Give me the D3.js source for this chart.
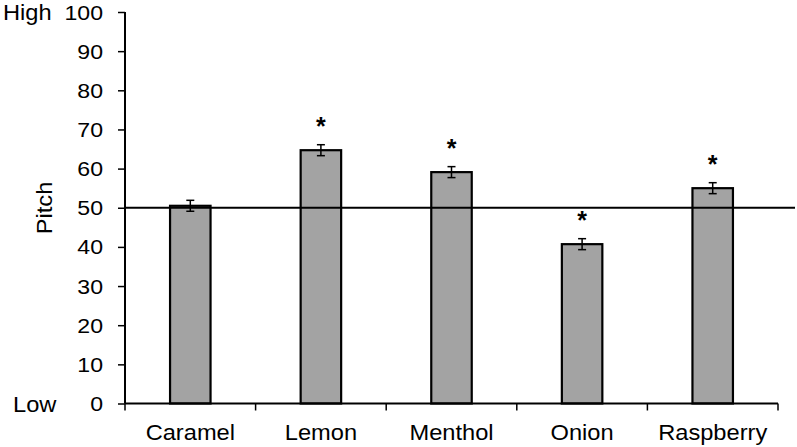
<!DOCTYPE html>
<html>
<head>
<meta charset="utf-8">
<script src="https://cdn.jsdelivr.net/npm/d3@7"></script>
<style>
  body { margin: 0; background: #fff; }
  text { font-family: "Liberation Sans", Arial, sans-serif; fill: #000; }
</style>
</head>
<body>
<svg id="chart" width="797" height="447"></svg>
<script>
  var categories = ['Caramel', 'Lemon', 'Menthol', 'Onion', 'Raspberry'];
  var values = [50.5, 64.7, 59.1, 40.7, 55.0];
  var errors = [1.4, 1.4, 1.4, 1.4, 1.4];
  var significant = [false, true, true, true, true];
  var yTicks = [0, 10, 20, 30, 40, 50, 60, 70, 80, 90, 100];
  var reference = 50;

  (function() {
    'use strict';

    var STRETCH = 1.1; // the source text is a little wider than it is tall
    var svg = d3.select('#chart');
    var plotLeft = 125, plotRight = 778, plotTop = 12, plotBottom = 403.5;

    // place a text at (x, y) with a slight horizontal stretch
    var label = function(parent, x, y, str, size, anchor) {
      return parent.append('text')
        .attr('transform', 'translate(' + x + ',' + y + ') scale(' + STRETCH + ',1)')
        .attr('text-anchor', anchor || 'start')
        .style('font-size', size + 'px')
        .text(str);
    };

    var x = d3.scaleBand()
      .domain(categories)
      .range([plotLeft, plotRight])
      .paddingInner(0.69)
      .paddingOuter(0.345);

    var y = d3.scaleLinear()
      .domain([0, 100])
      .range([plotBottom, plotTop]);

    // bars
    svg.selectAll('rect.bar')
      .data(values)
      .enter().append('rect')
      .attr('class', 'bar')
      .attr('x', function(d, i) { return x(categories[i]); })
      .attr('y', function(d) { return y(d); })
      .attr('width', x.bandwidth())
      .attr('height', function(d) { return y(0) - y(d); })
      .attr('fill', '#a3a3a3')
      .attr('stroke', '#000')
      .attr('stroke-width', 2.2);

    // reference line
    svg.append('line')
      .attr('x1', plotLeft).attr('x2', 795)
      .attr('y1', y(reference)).attr('y2', y(reference))
      .attr('stroke', '#000').attr('stroke-width', 2);

    // y axis
    var yAxis = svg.append('g')
      .attr('transform', 'translate(' + plotLeft + ',0)')
      .call(d3.axisLeft(y).tickValues(yTicks).tickSize(7).tickFormat(''));
    yAxis.select('.domain').attr('stroke-width', 2).attr('d', 'M0,' + plotTop + 'V' + plotBottom);
    yAxis.selectAll('.tick line').attr('stroke-width', 1.5);
    yTicks.forEach(function(t) {
      label(svg, plotLeft - 22, y(t), t, 21, 'end').attr('dy', '0.36em');
    });

    // x axis: ticks at category boundaries
    var xAxis = svg.append('g');
    xAxis.append('line')
      .attr('x1', plotLeft).attr('x2', plotRight)
      .attr('y1', plotBottom).attr('y2', plotBottom)
      .attr('stroke', '#000').attr('stroke-width', 2);
    d3.range(categories.length + 1).forEach(function(i) {
      var xx = plotLeft + i * (plotRight - plotLeft) / categories.length;
      xAxis.append('line')
        .attr('x1', xx).attr('x2', xx)
        .attr('y1', plotBottom).attr('y2', plotBottom + 7)
        .attr('stroke', '#000').attr('stroke-width', 1.5);
    });
    categories.forEach(function(c) {
      label(xAxis, x(c) + x.bandwidth() / 2, 440, c, 21.5, 'middle');
    });

    // error bars
    var err = svg.append('g').attr('stroke', '#000').attr('stroke-width', 1.5);
    values.forEach(function(v, i) {
      var cx = x(categories[i]) + x.bandwidth() / 2;
      var y1 = y(v + errors[i]), y2 = y(v - errors[i]);
      err.append('line').attr('x1', cx).attr('x2', cx).attr('y1', y1).attr('y2', y2);
      err.append('line').attr('x1', cx - 4).attr('x2', cx + 4).attr('y1', y1).attr('y2', y1);
      err.append('line').attr('x1', cx - 4).attr('x2', cx + 4).attr('y1', y2).attr('y2', y2);
    });

    // significance markers
    values.forEach(function(v, i) {
      if (!significant[i]) return;
      svg.append('text')
        .attr('x', x(categories[i]) + x.bandwidth() / 2)
        .attr('y', y(v + errors[i]) - 10)
        .attr('text-anchor', 'middle')
        .style('font-size', '25px')
        .style('font-weight', 'bold')
        .text('*');
    });

    // labels
    svg.append('text')
      .attr('transform', 'translate(52,208) rotate(-90) scale(' + STRETCH + ',1)')
      .attr('text-anchor', 'middle')
      .style('font-size', '21.5px')
      .text('Pitch');

    label(svg, 3, 20, 'High', 21.5);
    label(svg, 13, 412, 'Low', 21.5);
  })();
</script>
</body>
</html>
